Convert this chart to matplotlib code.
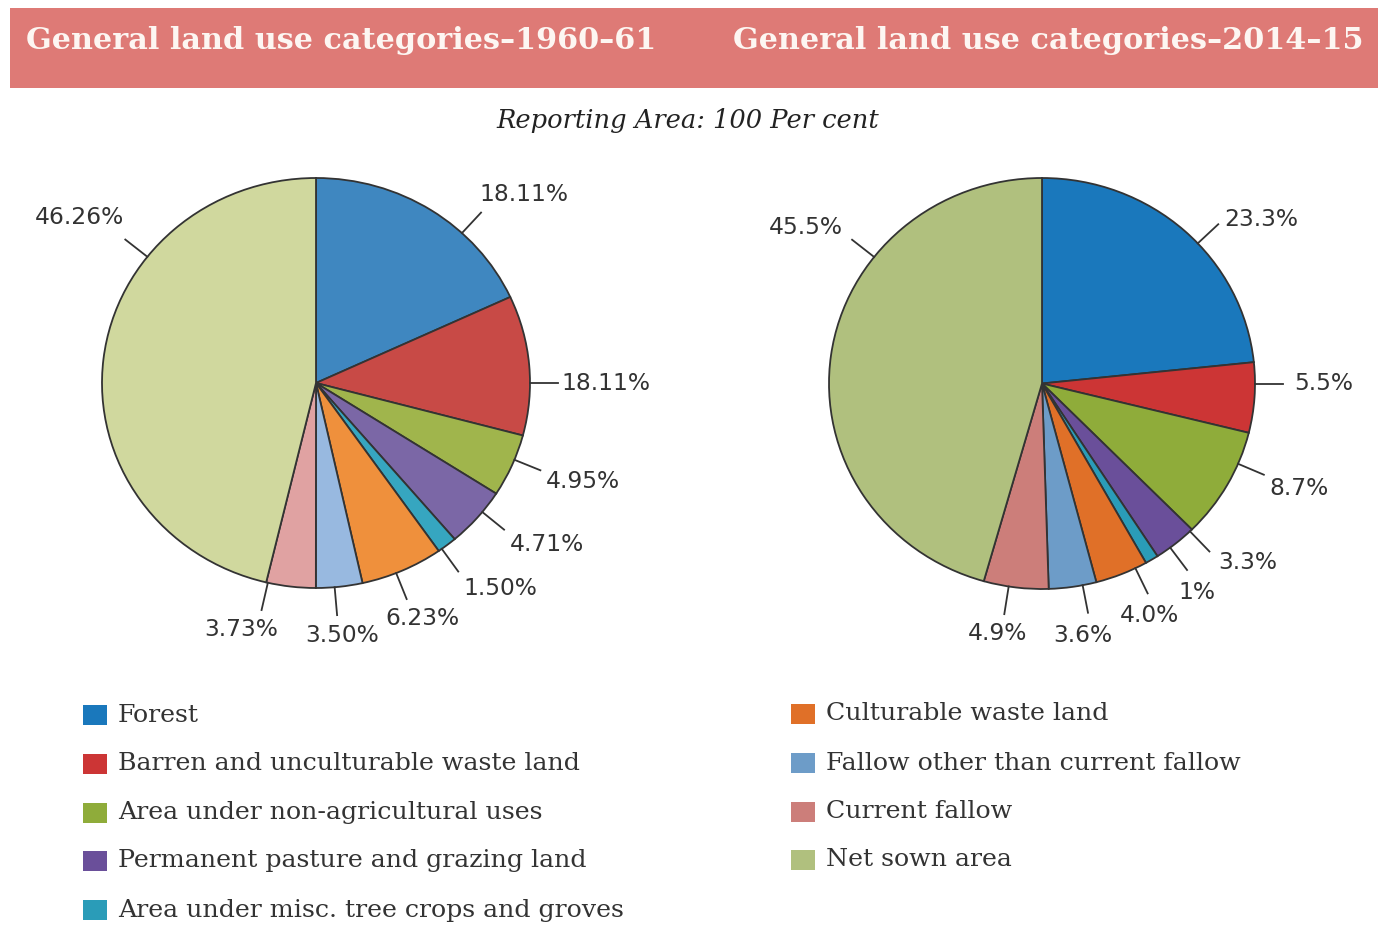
import numpy as np
import matplotlib
matplotlib.use("Agg")
import matplotlib.pyplot as plt
from matplotlib.patches import Rectangle
from matplotlib.transforms import Affine2D

# categories and shares (per cent of reporting area)
categories = ["Forest",
              "Barren and unculturable waste land",
              "Area under non-agricultural uses",
              "Permanent pasture and grazing land",
              "Area under misc. tree crops and groves",
              "Culturable waste land",
              "Fallow other than current fallow",
              "Current fallow",
              "Net sown area"]

share_1960 = [18.11, 11.01, 4.95, 4.71, 1.50, 6.23, 3.50, 3.73, 46.26]
labels_1960 = ["18.11%", "18.11%", "4.95%", "4.71%", "1.50%", "6.23%", "3.50%", "3.73%", "46.26%"]

share_2014 = [23.3, 5.5, 8.7, 3.3, 1.0, 4.0, 3.6, 4.9, 45.5]
labels_2014 = ["23.3%", "5.5%", "8.7%", "3.3%", "1%", "4.0%", "3.6%", "4.9%", "45.5%"]

colors_1960 = ["#3f87c0", "#c84a46", "#a0b54c", "#7b67a6", "#36a6c0",
               "#ef903c", "#98b9e0", "#e0a2a2", "#d0d89e"]
colors_2014 = ["#1a78bc", "#cc3535", "#8fac3a", "#6a4f9a", "#2a9cb8",
               "#e07028", "#6d9cc8", "#cc7e7a", "#b0c07e"]

# leader line angles (degrees) and label nudges (pixels, y down)
angles_1960 = [47, 0, -22, -39, -54, -68, -85, -103, 142]
nudge_1960 = [(-3, -5), (1, 0), (4, 10), (4, 2), (4, 4), (15, 6), (5, 7), (-20, 6), (0, -9)]
angles_2014 = [43, 0, -23, -46, -53, -64, -79, -99, 142]
nudge_2014 = [(5, 8), (9, 0), (4, 13), (7, -2), (-10, 9), (1, 9), (-6, 9), (-6, 6), (-8, 0)]

W, H = 1384, 927
fig = plt.figure(figsize=(W / 100, H / 100), dpi=100)
ax = fig.add_axes([0, 0, 1, 1])


def Y(py):
    return H - py


def draw_pie(values, labels, colors, angles, nudges, cx, cy, rx, ry):
    wedges, _ = ax.pie(values, colors=colors, startangle=90, counterclock=False,
                       center=(0, 0), radius=1, frame=True,
                       wedgeprops=dict(edgecolor="#333333", linewidth=1.3))
    # stretch the unit pie into the slightly oval shape of the original
    tr = Affine2D().scale(rx, ry).translate(cx, Y(cy)) + ax.transData
    for w in wedges:
        w.set_transform(tr)
    for lab, a, (dx, dy) in zip(labels, angles, nudges):
        t = np.radians(a)
        c, s = np.cos(t), np.sin(t)
        x0, y0 = cx + rx * c, Y(cy) + ry * s
        x1, y1 = cx + (rx + 28) * c, Y(cy) + (ry + 28) * s
        ax.plot([x0, x1], [y0, y1], color="#333333", lw=1.3)
        ha = "left" if c > 0.45 else ("right" if c < -0.45 else "center")
        va = "bottom" if s > 0.45 else ("top" if s < -0.45 else "center")
        ax.text(x1 + 2 * c + dx, y1 + 2 * s - dy, lab, ha=ha, va=va, fontsize=16.8,
                color="#333333", family="DejaVu Sans")


draw_pie(share_1960, labels_1960, colors_1960, angles_1960, nudge_1960, 316, 383, 214, 205)
draw_pie(share_2014, labels_2014, colors_2014, angles_2014, nudge_2014, 1042, 383.5, 213, 205.5)

# header band
ax.add_patch(Rectangle((10, Y(88)), 1368, 80, facecolor="#de7a76", edgecolor="none"))
ax.text(341, Y(40), "General land use categories\u20131960\u201361", ha="center", va="center",
        fontsize=21.8, fontweight="bold", color="#fdf6f2", family="DejaVu Serif")
ax.text(1048, Y(40), "General land use categories\u20132014\u201315", ha="center", va="center",
        fontsize=21.8, fontweight="bold", color="#fdf6f2", family="DejaVu Serif")
ax.text(688, Y(120), "Reporting Area: 100 Per cent", ha="center", va="center",
        fontsize=18.5, style="italic", color="#222222", family="DejaVu Serif")

# legend
rows_y = [715, 764, 813, 861, 910]
for i, (cat, col) in enumerate(zip(categories, colors_2014)):
    if i < 5:
        lx, ly = 83, rows_y[i]
    else:
        lx, ly = 791, rows_y[i - 5] - 1
    ax.add_patch(Rectangle((lx, Y(ly + 10)), 24, 20, facecolor=col, edgecolor="none"))
    ax.text(lx + 35, Y(ly), cat, ha="left", va="center", fontsize=18.2,
            color="#333333", family="DejaVu Serif")

ax.set_xlim(0, W)
ax.set_ylim(0, H)
ax.set_aspect("equal")
ax.axis("off")

fig.savefig("out.png", dpi=100, facecolor="white")
